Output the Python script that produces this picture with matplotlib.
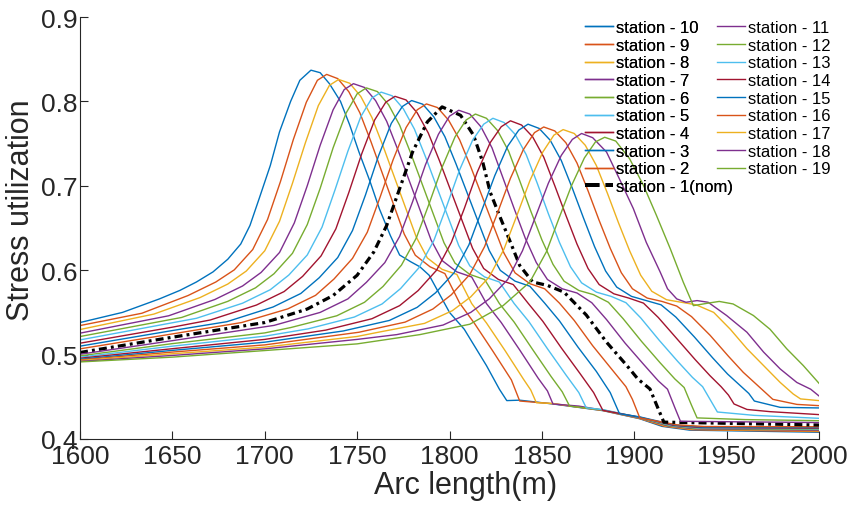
# Stress utilization along the arc length for every station
import matplotlib
matplotlib.use("Agg")
import matplotlib.pyplot as plt
from matplotlib.lines import Line2D

# Curve data (arc length in m, utilization)
x_st10 = [1600, 1623, 1643, 1654, 1663, 1672, 1680, 1687, 1692, 1697, 1703, 1708, 1714, 1719, 1725, 1730, 1735, 1741, 1746, 1751, 1757, 1762, 1768, 1773, 1779, 1784, 1789, 1795, 1800, 1808, 1820, 1827, 1831, 1838, 1856, 1883, 1903, 1915, 1930, 2000]
y_st10 = [0.538, 0.550, 0.566, 0.576, 0.586, 0.598, 0.613, 0.631, 0.653, 0.685, 0.724, 0.764, 0.800, 0.825, 0.837, 0.834, 0.821, 0.800, 0.772, 0.740, 0.705, 0.673, 0.641, 0.618, 0.610, 0.604, 0.594, 0.570, 0.550, 0.530, 0.487, 0.459, 0.4455, 0.446, 0.4415, 0.4336, 0.424, 0.415, 0.4105, 0.408]

x_st9 = [1600, 1633.5, 1658.5, 1673.5, 1683.5, 1693.5, 1701.5, 1708.5, 1715.5, 1722.5, 1728.5, 1733.5, 1739.5, 1745.5, 1751.5, 1757.5, 1763.5, 1769.5, 1775.5, 1781.5, 1789.5, 1797.5, 1805.5, 1813.5, 1823.5, 1833.5, 1838, 1856, 1883, 1903, 1916, 1931, 2000]
y_st9 = [0.5344, 0.549, 0.570, 0.586, 0.6004, 0.6245, 0.660, 0.705, 0.755, 0.799, 0.825, 0.832, 0.827, 0.8115, 0.7864, 0.7522, 0.7157, 0.6792, 0.6428, 0.6177, 0.604, 0.596, 0.561, 0.537, 0.504, 0.470, 0.445, 0.4418, 0.4338, 0.4243, 0.4152, 0.411, 0.4088]

x_st8 = [1600, 1640, 1665, 1680, 1690, 1700, 1708, 1715, 1722, 1729, 1735, 1740, 1746, 1752, 1758, 1764, 1770, 1776, 1782, 1788, 1796, 1804, 1812, 1820, 1830, 1840, 1844, 1847, 1856, 1883, 1903, 1917, 1932, 2000]
y_st8 = [0.5297, 0.548, 0.5676, 0.5836, 0.599, 0.623, 0.658, 0.703, 0.751, 0.795, 0.819, 0.826, 0.8215, 0.8058, 0.781, 0.7473, 0.7113, 0.6753, 0.6393, 0.6145, 0.601, 0.595, 0.5605, 0.5375, 0.505, 0.471, 0.458, 0.443, 0.4421, 0.434, 0.4246, 0.4154, 0.4115, 0.4096]

x_st7 = [1600, 1648, 1673, 1688, 1698, 1708, 1716, 1723, 1730, 1737, 1743, 1748, 1754, 1760, 1766, 1772, 1778, 1784, 1790, 1796, 1804, 1812, 1820, 1828, 1838, 1848, 1853, 1856, 1870, 1883, 1903, 1918, 1933, 2000]
y_st7 = [0.5254, 0.546, 0.5653, 0.5813, 0.5973, 0.621, 0.656, 0.700, 0.748, 0.790, 0.814, 0.821, 0.8165, 0.8009, 0.7764, 0.743, 0.7073, 0.6716, 0.6359, 0.6114, 0.598, 0.592, 0.5605, 0.538, 0.5055, 0.472, 0.457, 0.4415, 0.439, 0.4342, 0.4249, 0.4156, 0.412, 0.4104]

x_st6 = [1600, 1655, 1680, 1695, 1705, 1715, 1723, 1730, 1737, 1744, 1750, 1755, 1761, 1767, 1773, 1779, 1785, 1791, 1797, 1803, 1811, 1819, 1827, 1835, 1845, 1855, 1861, 1865, 1883, 1903, 1919, 1934, 2000]
y_st6 = [0.5214, 0.544, 0.5631, 0.5791, 0.5958, 0.620, 0.654, 0.697, 0.745, 0.786, 0.809, 0.816, 0.8116, 0.7961, 0.7718, 0.7387, 0.7033, 0.6679, 0.6326, 0.6083, 0.595, 0.589, 0.5605, 0.5385, 0.506, 0.474, 0.456, 0.439, 0.4345, 0.4252, 0.4158, 0.4125, 0.4112]

x_st5 = [1600, 1663, 1688, 1703, 1713, 1723, 1731, 1738, 1745, 1752, 1758, 1763, 1769, 1775, 1781, 1787, 1793, 1799, 1805, 1811, 1819, 1827, 1835, 1843, 1853, 1863, 1870, 1874, 1883, 1903, 1920, 1935, 2000]
y_st5 = [0.5174, 0.543, 0.5609, 0.5769, 0.5942, 0.618, 0.651, 0.695, 0.741, 0.782, 0.804, 0.811, 0.8066, 0.7913, 0.7672, 0.7344, 0.6993, 0.6643, 0.6292, 0.6051, 0.592, 0.586, 0.5605, 0.539, 0.507, 0.476, 0.455, 0.437, 0.4348, 0.4255, 0.416, 0.413, 0.412]

x_st4 = [1600, 1650, 1670.5, 1695.5, 1710.5, 1720.5, 1730.5, 1738.5, 1745.5, 1752.5, 1759.5, 1765.5, 1770.5, 1776.5, 1782.5, 1788.5, 1794.5, 1800.5, 1806.5, 1812.5, 1818.5, 1826.5, 1834.5, 1842.5, 1850.5, 1860.5, 1870.5, 1878, 1883, 1903, 1921, 1936, 2000]
y_st4 = [0.5135, 0.5325, 0.541, 0.5587, 0.5747, 0.5927, 0.617, 0.649, 0.692, 0.738, 0.778, 0.799, 0.806, 0.8017, 0.7865, 0.7626, 0.7301, 0.6953, 0.6606, 0.6259, 0.602, 0.589, 0.583, 0.561, 0.5395, 0.508, 0.478, 0.455, 0.434, 0.4258, 0.4162, 0.4135, 0.4128]

x_st3 = [1600, 1650, 1679.5, 1704.5, 1719.5, 1729.5, 1739.5, 1747.5, 1754.5, 1761.5, 1768.5, 1774.5, 1779.5, 1785.5, 1791.5, 1797.5, 1803.5, 1809.5, 1815.5, 1821.5, 1827.5, 1835.5, 1843.5, 1851.5, 1859.5, 1869.5, 1879.5, 1887, 1892, 1903, 1922, 1937, 2000]
y_st3 = [0.510, 0.5285, 0.539, 0.5564, 0.5724, 0.5911, 0.615, 0.647, 0.689, 0.735, 0.774, 0.794, 0.801, 0.7967, 0.7817, 0.7582, 0.7261, 0.6919, 0.6576, 0.6234, 0.5998, 0.587, 0.581, 0.561, 0.540, 0.509, 0.480, 0.455, 0.430, 0.4262, 0.4165, 0.414, 0.4136]

x_st2 = [1600, 1650, 1687.5, 1712.5, 1727.5, 1737.5, 1747.5, 1755.5, 1762.5, 1769.5, 1776.5, 1782.5, 1787.5, 1793.5, 1799.5, 1805.5, 1811.5, 1817.5, 1823.5, 1829.5, 1835.5, 1843.5, 1851.5, 1859.5, 1867.5, 1877.5, 1887.5, 1895.5, 1899, 1903, 1923, 1938, 2000]
y_st2 = [0.5068, 0.5245, 0.538, 0.5542, 0.5702, 0.5896, 0.614, 0.645, 0.687, 0.731, 0.769, 0.790, 0.797, 0.7927, 0.7778, 0.7544, 0.7225, 0.6884, 0.6543, 0.6202, 0.5968, 0.584, 0.578, 0.561, 0.5405, 0.5105, 0.4835, 0.462, 0.447, 0.425, 0.4168, 0.4148, 0.4145]

x_st1 = [1600, 1650, 1700, 1723, 1737, 1750, 1759, 1766, 1773, 1780, 1788, 1796, 1806, 1813, 1818, 1822, 1827, 1833, 1838, 1845, 1853, 1862, 1874, 1885, 1896, 1902, 1908.5, 1913, 1916, 2000]
y_st1 = [0.5025, 0.5206, 0.538, 0.554, 0.570, 0.594, 0.6215, 0.653, 0.6966, 0.740, 0.7757, 0.7935, 0.7835, 0.760, 0.728, 0.6926, 0.665, 0.633, 0.6056, 0.586, 0.582, 0.574, 0.547, 0.5147, 0.487, 0.471, 0.4593, 0.4356, 0.420, 0.4166]

x_st11 = [1600, 1650, 1705, 1730, 1745, 1755, 1765, 1773, 1780, 1787, 1794, 1800, 1805, 1811, 1817, 1823, 1829, 1835, 1841, 1847, 1853, 1861, 1869, 1877, 1885, 1895, 1905, 1913, 1918, 1922, 1925, 1950, 2000]
y_st11 = [0.5004, 0.5165, 0.5346, 0.550, 0.566, 0.5856, 0.609, 0.640, 0.681, 0.725, 0.761, 0.7825, 0.7895, 0.785, 0.770, 0.745, 0.709, 0.673, 0.638, 0.609, 0.589, 0.578, 0.573, 0.5615, 0.5415, 0.5137, 0.4886, 0.4689, 0.459, 0.437, 0.421, 0.4205, 0.4195]

x_st12 = [1600, 1650, 1700, 1714, 1739, 1754, 1764, 1774, 1782, 1789, 1796, 1803, 1809, 1814, 1820, 1826, 1832, 1838, 1844, 1850, 1856, 1862, 1870, 1878, 1886, 1894, 1904, 1914, 1922, 1927, 1931, 1934, 1960, 2000]
y_st12 = [0.4985, 0.513, 0.5257, 0.532, 0.546, 0.562, 0.5807, 0.606, 0.638, 0.679, 0.722, 0.758, 0.778, 0.785, 0.780, 0.7655, 0.741, 0.706, 0.670, 0.636, 0.607, 0.587, 0.576, 0.571, 0.562, 0.5425, 0.5155, 0.4903, 0.4711, 0.461, 0.440, 0.425, 0.423, 0.4217]

x_st13 = [1600, 1650, 1700, 1723.5, 1748.5, 1763.5, 1773.5, 1783.5, 1791.5, 1798.5, 1805.5, 1812.5, 1818.5, 1823.5, 1829.5, 1835.5, 1841.5, 1847.5, 1853.5, 1859.5, 1865.5, 1871.5, 1879.5, 1887.5, 1895.5, 1903.5, 1913.5, 1923.5, 1931.5, 1937, 1941, 1945, 1965, 2000]
y_st13 = [0.497, 0.510, 0.5218, 0.5305, 0.5445, 0.560, 0.5782, 0.603, 0.635, 0.676, 0.719, 0.754, 0.773, 0.780, 0.775, 0.761, 0.737, 0.703, 0.667, 0.633, 0.604, 0.585, 0.574, 0.569, 0.5615, 0.5435, 0.517, 0.492, 0.473, 0.462, 0.447, 0.432, 0.428, 0.4245]

x_st14 = [1600, 1650, 1700, 1733, 1758, 1773, 1783, 1793, 1801, 1808, 1815, 1822, 1828, 1833, 1839, 1845, 1851, 1857, 1863, 1869, 1875, 1881, 1889, 1897, 1905, 1913, 1923, 1933, 1941, 1947, 1951, 1954, 1961, 1973.5, 2000]
y_st14 = [0.4957, 0.507, 0.518, 0.529, 0.5425, 0.558, 0.5758, 0.600, 0.633, 0.673, 0.716, 0.751, 0.770, 0.777, 0.772, 0.758, 0.734, 0.700, 0.665, 0.631, 0.602, 0.583, 0.572, 0.567, 0.561, 0.544, 0.519, 0.494, 0.475, 0.462, 0.452, 0.4415, 0.435, 0.4324, 0.4289]

x_st15 = [1600, 1650, 1700, 1742.5, 1767.5, 1782.5, 1792.5, 1802.5, 1810.5, 1817.5, 1824.5, 1831.5, 1837.5, 1842.5, 1848.5, 1854.5, 1860.5, 1866.5, 1872.5, 1878.5, 1884.5, 1890.5, 1898.5, 1906.5, 1914.5, 1922.5, 1932.5, 1942.5, 1950.5, 1957, 1962, 1965, 1979, 2000]
y_st15 = [0.4945, 0.505, 0.5147, 0.528, 0.5405, 0.556, 0.5733, 0.597, 0.630, 0.671, 0.712, 0.747, 0.766, 0.773, 0.768, 0.754, 0.730, 0.697, 0.662, 0.628, 0.599, 0.580, 0.569, 0.564, 0.559, 0.5445, 0.521, 0.496, 0.477, 0.464, 0.454, 0.445, 0.4375, 0.4368]

x_st16 = [1600, 1650, 1700, 1751, 1776, 1791, 1801, 1811, 1819, 1826, 1833, 1840, 1846, 1851, 1857, 1863, 1869, 1875, 1881, 1887, 1893, 1899, 1907, 1915, 1923, 1931, 1941, 1951, 1959, 1966, 1971, 1975, 1988, 2000]
y_st16 = [0.4937, 0.503, 0.5115, 0.5265, 0.5385, 0.554, 0.5709, 0.595, 0.628, 0.668, 0.709, 0.743, 0.763, 0.7697, 0.765, 0.751, 0.727, 0.694, 0.659, 0.626, 0.597, 0.578, 0.567, 0.563, 0.5575, 0.545, 0.523, 0.498, 0.479, 0.465, 0.455, 0.447, 0.441, 0.4395]

x_st17 = [1600, 1650, 1700, 1750, 1761.5, 1786.5, 1801.5, 1811.5, 1821.5, 1829.5, 1836.5, 1843.5, 1850.5, 1856.5, 1861.5, 1867.5, 1873.5, 1879.5, 1885.5, 1891.5, 1897.5, 1903.5, 1909.5, 1917.5, 1925.5, 1933.5, 1943, 1952, 1961, 1970, 1979, 1986, 1990, 2000]
y_st17 = [0.4929, 0.501, 0.5088, 0.5215, 0.5265, 0.537, 0.552, 0.5684, 0.592, 0.625, 0.665, 0.706, 0.740, 0.760, 0.7666, 0.762, 0.748, 0.724, 0.691, 0.656, 0.623, 0.594, 0.575, 0.565, 0.562, 0.559, 0.550, 0.530, 0.507, 0.487, 0.467, 0.4534, 0.4475, 0.4455]

x_st18 = [1600, 1650, 1700, 1750, 1771.5, 1796.5, 1811.5, 1821.5, 1831.5, 1839.5, 1846.5, 1853.5, 1860.5, 1866.5, 1871.5, 1877.5, 1885, 1892, 1899.5, 1906.5, 1914, 1918, 1923, 1928, 1934, 1940, 1950, 1961, 1970, 1979, 1988, 1995.5, 2000]
y_st18 = [0.492, 0.499, 0.5068, 0.518, 0.5237, 0.535, 0.550, 0.566, 0.589, 0.623, 0.663, 0.703, 0.736, 0.755, 0.762, 0.757, 0.740, 0.708, 0.673, 0.633, 0.598, 0.578, 0.566, 0.562, 0.564, 0.562, 0.5463, 0.5265, 0.503, 0.483, 0.467, 0.459, 0.451]

x_st19 = [1600, 1650, 1700, 1750, 1784, 1811, 1829, 1843.5, 1852.5, 1859, 1866, 1873, 1879, 1884, 1890, 1897.5, 1905, 1912, 1919.5, 1926.5, 1932, 1940, 1946, 1953.5, 1964.5, 1973.5, 1982.5, 1991.5, 2000]
y_st19 = [0.4913, 0.497, 0.5048, 0.5127, 0.5237, 0.536, 0.558, 0.586, 0.622, 0.66, 0.70, 0.733, 0.752, 0.7575, 0.753, 0.732, 0.7005, 0.665, 0.6254, 0.586, 0.558, 0.561, 0.563, 0.560, 0.5463, 0.530, 0.507, 0.487, 0.466]

# Plotting order (same as the legend order)
stations = [10, 9, 8, 7, 6, 5, 4, 3, 2, 1, 11, 12, 13, 14, 15, 16, 17, 18, 19]
labels = ["station - %d" % s for s in stations]
labels[9] = "station - 1(nom)"
x_data = [x_st10, x_st9, x_st8, x_st7, x_st6, x_st5, x_st4, x_st3, x_st2, x_st1,
          x_st11, x_st12, x_st13, x_st14, x_st15, x_st16, x_st17, x_st18, x_st19]
y_data = [y_st10, y_st9, y_st8, y_st7, y_st6, y_st5, y_st4, y_st3, y_st2, y_st1,
          y_st11, y_st12, y_st13, y_st14, y_st15, y_st16, y_st17, y_st18, y_st19]

# MATLAB default colour order
matlab_colors = ["#0072BD", "#D95319", "#EDB120", "#7E2F8E", "#77AC30", "#4DBEEE", "#A2142F"]

x_ticks = [1600, 1650, 1700, 1750, 1800, 1850, 1900, 1950, 2000]
y_ticks = [0.4, 0.5, 0.6, 0.7, 0.8, 0.9]


def main():
    plt.rcParams['font.family'] = ['Liberation Sans', 'DejaVu Sans']

    fig = plt.figure(figsize=(8.58, 5.10), dpi=100)
    ax = fig.add_axes([80 / 858, 70 / 510, 739 / 858, 422 / 510])

    handles = []
    for i in range(len(stations)):
        if stations[i] == 1:
            # nominal station: thick black dash-dot
            line, = ax.plot(x_data[i], y_data[i], color="black",
                            linestyle=(0, (2.5, 1.3, 0.9, 1.3)), linewidth=2.3)
        else:
            line, = ax.plot(x_data[i], y_data[i], color=matlab_colors[i % 7],
                            linewidth=1.0)
        handles.append(line)

    # Axis limits, ticks and labels
    ax.set_xlim(1600, 2000)
    ax.set_ylim(0.4, 0.9)
    ax.set_xticks(x_ticks)
    ax.set_yticks(y_ticks)
    ax.set_yticklabels(["%.1f" % v for v in y_ticks])
    ax.tick_params(direction="in", length=5.5, width=0.8, labelsize=19,
                   colors="#262626")
    ax.tick_params(axis="x", pad=3.5)
    ax.tick_params(axis="y", pad=1.5)
    for side in ["top", "right"]:
        ax.spines[side].set_visible(False)
    for side in ["left", "bottom"]:
        ax.spines[side].set_color("#262626")
        ax.spines[side].set_linewidth(0.8)

    ax.set_xlabel("Arc length(m)", fontsize=22, color="#262626")
    ax.set_ylabel("Stress utilization", fontsize=22, color="#262626")
    ax.xaxis.set_label_coords(0.522, -0.074)
    ax.yaxis.set_label_coords(-0.06, 0.545)

    # Two legend columns, placed separately like the MATLAB legend
    nom_handle = Line2D([], [], color="black", linestyle="--", linewidth=2.8)
    col1 = handles[:9] + [nom_handle]
    col2 = handles[10:]
    leg_opts = dict(loc="upper left", frameon=False, fontsize=12,
                    handlelength=1.7, handletextpad=0.15, labelspacing=0.16,
                    borderpad=0, borderaxespad=0)
    leg1 = fig.legend(col1, labels[:10], bbox_to_anchor=(585 / 858, 489 / 510),
                      **leg_opts)
    fig.legend(col2, labels[10:], bbox_to_anchor=(717 / 858, 489 / 510),
               **leg_opts)
    fig.add_artist(leg1)

    fig.savefig("out.png", dpi=100)


main()
